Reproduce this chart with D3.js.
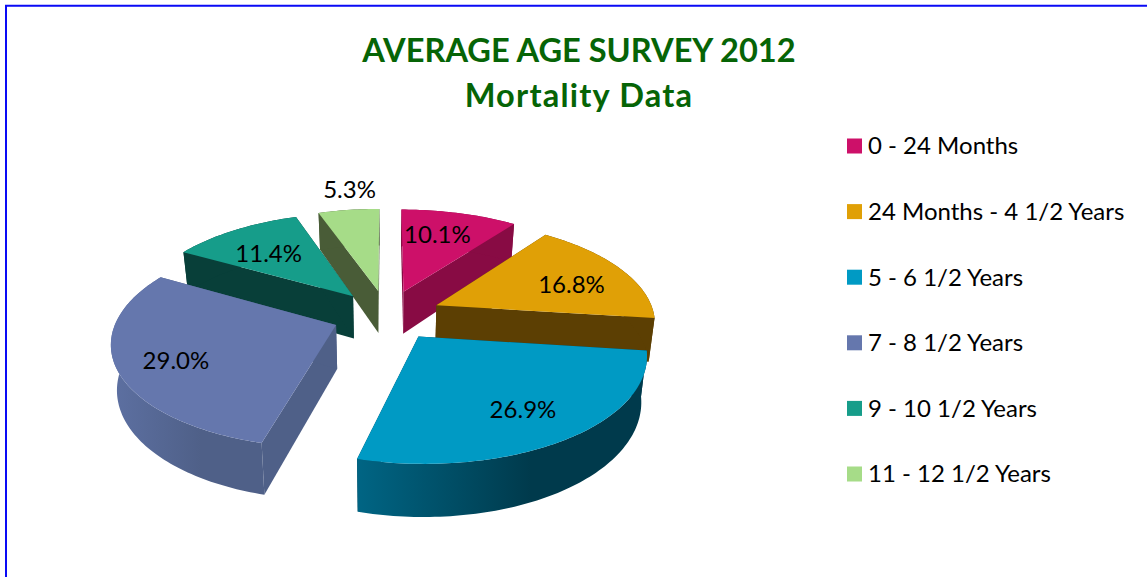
<!DOCTYPE html>
<html>
<head>
<meta charset="utf-8">
<script src="https://cdn.jsdelivr.net/npm/d3@7/dist/d3.min.js"></script>
<style>
html, body { margin: 0; padding: 0; background: #fff; overflow: hidden; }
svg { display: block; font-family: Lato, "Open Sans", sans-serif; }
</style>
</head>
<body>
<svg id="chart" width="1147" height="577"></svg>
<script>
// chart values
const titleLines = ["AVERAGE AGE SURVEY 2012", "Mortality Data"];
const categories = ["0 - 24 Months", "24 Months - 4 1/2 Years", "5 - 6 1/2 Years", "7 - 8 1/2 Years", "9 - 10 1/2 Years", "11 - 12 1/2 Years"];
const values = [10.1, 16.8, 26.9, 29.0, 11.4, 5.3];
const valueLabels = ["10.1%", "16.8%", "26.9%", "29.0%", "11.4%", "5.3%"];

// colours
const topColors = ["#cd1069", "#e0a006", "#009ac4", "#6577ad", "#169d8a", "#a6dc88"];
const wallColors = ["#880b44", "#5c3f03", "#003a4c", "#4f6088", "#083f39", "#495c37"];
const wallLight = ["#880b44", "#5c3f03", "#006584", "#5d70a2", "#083f39", "#495c37"];

// svg setting
const svg = d3.select("#chart");
const cx = 387, cy = 315;
const radiusX = 218, radiusY = 101, depth = 43.5;
const persp = 0.15, explode = 0.25, taper = 0.022;

// perspective for the tilted disc: u is left/right, v is back/front, z 0 top 1 bottom
function project(u, v, z) {
    const s = 1 / (1 + persp * v);
    return [cx + radiusX * s * u * (1 - taper * z), cy - radiusY * s * v + depth * s * z];
}

// frame, only left and top are drawn in the original
svg.append("path")
    .attr("d", "M6,577V5.7H1147")
    .attr("fill", "none")
    .attr("stroke", "#0a0af5")
    .attr("stroke-width", 2);

// title
const titleSpacing = [0, 1.2];
svg.append("g").selectAll("text")
    .data(titleLines)
    .join("text")
    .attr("x", 579)
    .attr("y", (d, i) => 62 + i * 45)
    .attr("text-anchor", "middle")
    .attr("font-size", 32.6)
    .attr("font-weight", 700)
    .attr("letter-spacing", (d, i) => titleSpacing[i])
    .attr("fill", "#066406")
    .text(d => d);

const pie = d3.pie().sort(null).value(d => d);
const arcs = pie(values);
const line = d3.line();
const defs = svg.append("defs");

// one slice, built from angle steps around the rim
function slicePoints(a) {
    const mid = (a.startAngle + a.endAngle) / 2;
    const ox = explode * Math.sin(mid), oy = explode * Math.cos(mid);
    const n = Math.ceil((a.endAngle - a.startAngle) / 0.02);
    const angles = d3.range(n + 1).map(i => a.startAngle + (a.endAngle - a.startAngle) * i / n);
    return {
        mid, ox, oy,
        apex: z => project(ox, oy, z),
        rim: z => angles.map(t => project(ox + Math.sin(t), oy + Math.cos(t), z))
    };
}

const order = [5, 4, 0, 1, 3, 2]; // back to front
const g = svg.append("g");

order.forEach(i => {
    const p = slicePoints(arcs[i]);
    const rimTop = p.rim(0), rimBottom = p.rim(1);
    const first = rimTop[0], last = rimTop[rimTop.length - 1];
    const firstB = rimBottom[0], lastB = rimBottom[rimBottom.length - 1];

    const grad = defs.append("linearGradient")
        .attr("id", "wall" + i)
        .attr("gradientUnits", "userSpaceOnUse")
        .attr("x1", d3.min(rimTop, d => d[0])).attr("x2", d3.max(rimTop, d => d[0]))
        .attr("y1", 0).attr("y2", 0);
    grad.append("stop").attr("offset", 0).attr("stop-color", wallLight[i]);
    grad.append("stop").attr("offset", 0.6).attr("stop-color", wallColors[i]);

    // radial walls
    g.append("path")
        .attr("d", line([p.apex(0), first, firstB, p.apex(1)]) + "Z")
        .attr("fill", wallColors[i]);
    g.append("path")
        .attr("d", line([p.apex(0), last, lastB, p.apex(1)]) + "Z")
        .attr("fill", wallColors[i]);
    // rim wall
    g.append("path")
        .attr("d", line(rimTop.concat(rimBottom.slice().reverse())) + "Z")
        .attr("fill", i === 2 || i === 3 ? `url(#wall${i})` : wallColors[i]);
    // top face
    g.append("path")
        .attr("d", line([p.apex(0)].concat(rimTop)) + "Z")
        .attr("fill", topColors[i]);
});

// value labels, nudged from a point on the slice bisector
const labelFrac = 0.62;
const labelNudge = [[-2.5, -6.5], [18.5, 2], [17, 12.5], [-27, 10], [-8, 0], [-9.5, -48.5]];
svg.append("g").selectAll("text")
    .data(arcs)
    .join("text")
    .attr("transform", (d, i) => {
        const p = slicePoints(d);
        const pos = project(p.ox + labelFrac * Math.sin(p.mid), p.oy + labelFrac * Math.cos(p.mid), 0);
        return `translate(${pos[0] + labelNudge[i][0]},${pos[1] + labelNudge[i][1]})`;
    })
    .attr("text-anchor", "middle")
    .attr("dy", "0.35em")
    .attr("font-size", 24)
    .attr("fill", "#000")
    .text((d, i) => valueLabels[i]);

// legend
const legendY = d3.scalePoint().domain(categories).range([146, 474]);
const legend = svg.append("g").selectAll("g")
    .data(categories)
    .join("g")
    .attr("transform", d => `translate(847,${legendY(d)})`);
legend.append("rect")
    .attr("y", -7.5)
    .attr("width", 15)
    .attr("height", 15)
    .attr("fill", (d, i) => topColors[i]);
legend.append("text")
    .attr("x", 21)
    .attr("dy", "0.35em")
    .attr("font-size", 24)
    .attr("fill", "#000")
    .text(d => d);
</script>
</body>
</html>
